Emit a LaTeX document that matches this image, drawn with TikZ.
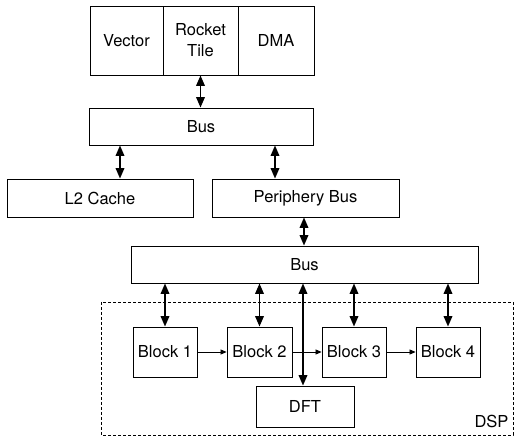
\documentclass[tikz,border=0pt]{standalone}
\usepackage{fontspec}
\setmainfont{TeX Gyre Heros}
\usetikzlibrary{arrows.meta}
\begin{document}
\begin{tikzpicture}[x=1pt,y=-1pt,
  box/.style={draw, line width=0.8pt, inner sep=0pt, align=center,
    font=\fontsize{16.5}{21}\selectfont},
  biarrow/.style={line width=1.8pt,
    {Triangle[length=10.5pt,width=8.5pt]}-{Triangle[length=10.5pt,width=8.5pt]}},
  flow/.style={line width=0.7pt, -{Triangle[length=6pt,width=5pt]}},
  region/.style={draw, line width=0.7pt, dash pattern=on 3pt off 2pt}]
\useasboundingbox (0,0) rectangle (515,438);

% DSP region
\draw[region] (101,302) rectangle (513,435);
\node[anchor=base east, font=\fontsize{16.5}{20}\selectfont] (dsp) at (512,428) {DSP};

% tile
\node[box, minimum width=73pt, minimum height=69pt] (vector) at (126.5,40.5) {Vector};
\node[box, minimum width=75pt, minimum height=69pt] (rocket) at (200.5,40.5) {Rocket\\Tile};
\node[box, minimum width=76pt, minimum height=69pt] (dma) at (276,40.5) {DMA};

% buses and memories
\node[box, minimum width=224pt, minimum height=37pt] (bus1) at (201,126.5) {Bus};
\node[box, minimum width=186pt, minimum height=38pt] (l2) at (100,198) {L2 Cache};
\node[box, minimum width=187pt, minimum height=38pt] (pbus) at (305.5,198) {Periphery Bus};
\node[box, minimum width=347pt, minimum height=37pt] (bus2) at (304.5,264.5) {Bus};

% DSP blocks
\node[box, minimum width=64pt, minimum height=50pt] (b1) at (165,352) {Block 1};
\node[box, minimum width=65pt, minimum height=50pt] (b2) at (259.5,352) {Block 2};
\node[box, minimum width=64pt, minimum height=50pt] (b3) at (354,352) {Block 3};
\node[box, minimum width=64pt, minimum height=50pt] (b4) at (448,352) {Block 4};
\node[box, minimum width=98pt, minimum height=41pt] (dft) at (305,406.5) {DFT};

% bus connections
\draw[biarrow] (rocket.south) -- (rocket.south |- bus1.north);
\draw[biarrow] ([xshift=20pt]l2.north |- bus1.south) -- ([xshift=20pt]l2.north);
\draw[biarrow] ([xshift=-30.5pt]pbus.north |- bus1.south) -- ([xshift=-30.5pt]pbus.north);
\draw[biarrow] ([xshift=-1.5pt]pbus.south) -- ([xshift=-1.5pt]pbus.south |- bus2.north);
\foreach \b in {b1,b2,b3,b4}
  \draw[biarrow] (\b.north |- bus2.south) -- (\b.north);
\draw[biarrow] ([xshift=-2pt]dft.north |- bus2.south) -- ([xshift=-2pt]dft.north);

% data flow
\draw[flow] (b1) -- (b2);
\draw[flow] (b2) -- (b3);
\draw[flow] (b3) -- (b4);
\end{tikzpicture}
\end{document}
